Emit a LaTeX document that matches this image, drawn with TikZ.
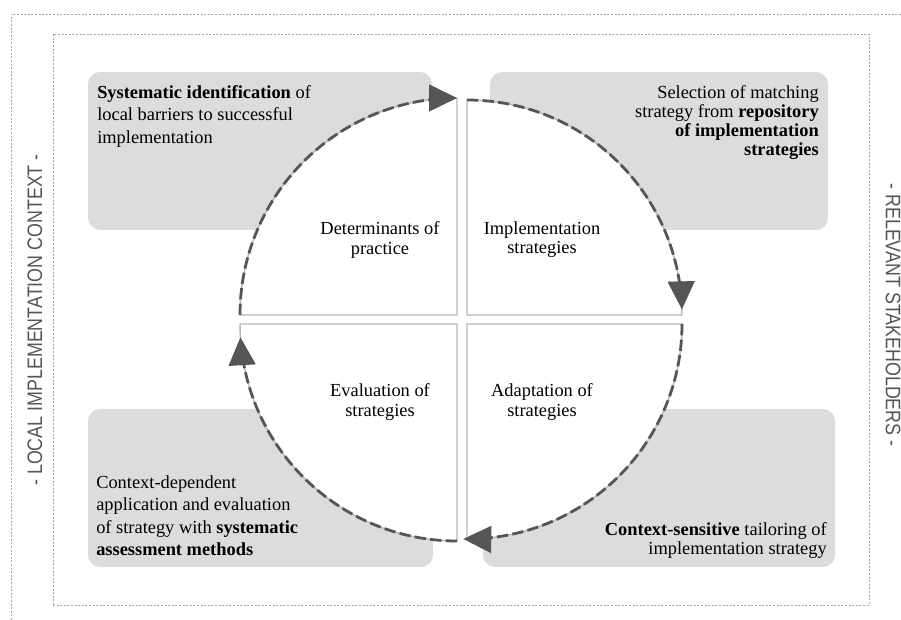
\documentclass[tikz,border=0pt]{standalone}
\usepackage{fontspec}
\setmainfont{Liberation Serif}
\newfontfamily\sidefont[FakeStretch=0.85]{Liberation Sans}
\usetikzlibrary{arrows.meta,calc}
\definecolor{boxgray}{HTML}{DCDCDC}
\definecolor{arcgray}{HTML}{555555}
\definecolor{rimgray}{HTML}{B8B8B8}

\begin{document}
\begin{tikzpicture}[x=0.75pt,y=0.75pt,
  frame/.style={gray!70,line width=0.6pt,dash pattern=on 1.5pt off 1.2pt},
  panel/.style={fill=boxgray,rounded corners=9pt},
  quarter/.style={fill=white,draw=rimgray,line width=1.1pt},
  turn/.style={arcgray,line width=2.1pt,dash pattern=on 8.5pt off 3.2pt},
  turntip/.style={arcgray,line width=2.1pt,-{Triangle[length=21pt,width=20pt]}},
  note/.style={font=\fontsize{13.8}{16.9}\selectfont,inner sep=0pt},
  tightnote/.style={font=\fontsize{13.8}{14.4}\selectfont,inner sep=0pt},
  phase/.style={font=\fontsize{13.8}{14.4}\selectfont,align=center,inner sep=0pt},
  side/.style={font=\sidefont\fontsize{15.75}{18}\selectfont,text=arcgray,inner sep=0pt}]
  \useasboundingbox (0,0) rectangle (901,620);
  % dotted frames
  \draw[frame] (11,0) |- (901,606);
  \draw[frame] (53,15) rectangle (869,586);
  % grey panels
  \fill[panel] (88,390) rectangle (432,548);
  \fill[panel] (490,390) rectangle (828,548);
  \fill[panel] (88,53) rectangle (433,211);
  \fill[panel] (483,53) rectangle (835,211);
  % the four quarters
  \foreach \cx/\cy/\r/\a in {457/305/217/90,467/305/215/0,457/296/217/180,467/296/215/270}
    {\filldraw[quarter] (\cx,\cy) -- ++(\a:\r) arc[start angle=\a,end angle=\a+90,radius=\r] -- cycle;}
  % dashed cycle, clockwise, tips drawn apart
  \foreach \cx/\cy/\r/\s/\e in {457/305/217/180/90,467/305/215/90/1.5,467/296/215/0/-91,457/296/217/-90/-176.5}
    {\draw[turn] (\cx,\cy) ++(\s:\r) arc[start angle=\s,end angle=\e+4,radius=\r];
     \coordinate (tip) at ($(\cx,\cy)+(\e:\r)$);
     \draw[turntip] ($(tip)+(\e+90:28)$) -- (tip);}
  % panel texts
  \node[note,anchor=north west,align=left] (barriers) at (97,535)
    {\textbf{Systematic identification} of\\local barriers to successful\\implementation};
  \node[tightnote,anchor=north east,align=right] (repository) at (819,535)
    {Selection of matching\\strategy from \textbf{repository}\\\textbf{of implementation}\\\textbf{strategies}};
  \node[note,anchor=north west,align=left] (assessment) at (96,145)
    {Context-dependent\\application and evaluation\\of strategy with \textbf{systematic}\\\textbf{assessment methods}};
  \node[tightnote,anchor=north east,align=right] (tailoring) at (827,98)
    {\textbf{Context-sensitive} tailoring of\\implementation strategy};
  % quarter labels
  \node[phase] (determinants) at (380,380) {Determinants of\\practice};
  \node[phase] (strategies) at (542,380) {Implementation\\strategies};
  \node[phase] (evaluation) at (380,218) {Evaluation of\\strategies};
  \node[phase] (adaptation) at (542,218) {Adaptation of\\strategies};
  % side labels
  \node[side,rotate=90] (context) at (35,300) {- LOCAL IMPLEMENTATION CONTEXT -};
  \node[side,rotate=-90] (stakeholders) at (893,305) {- RELEVANT STAKEHOLDERS -};
\end{tikzpicture}
\end{document}
